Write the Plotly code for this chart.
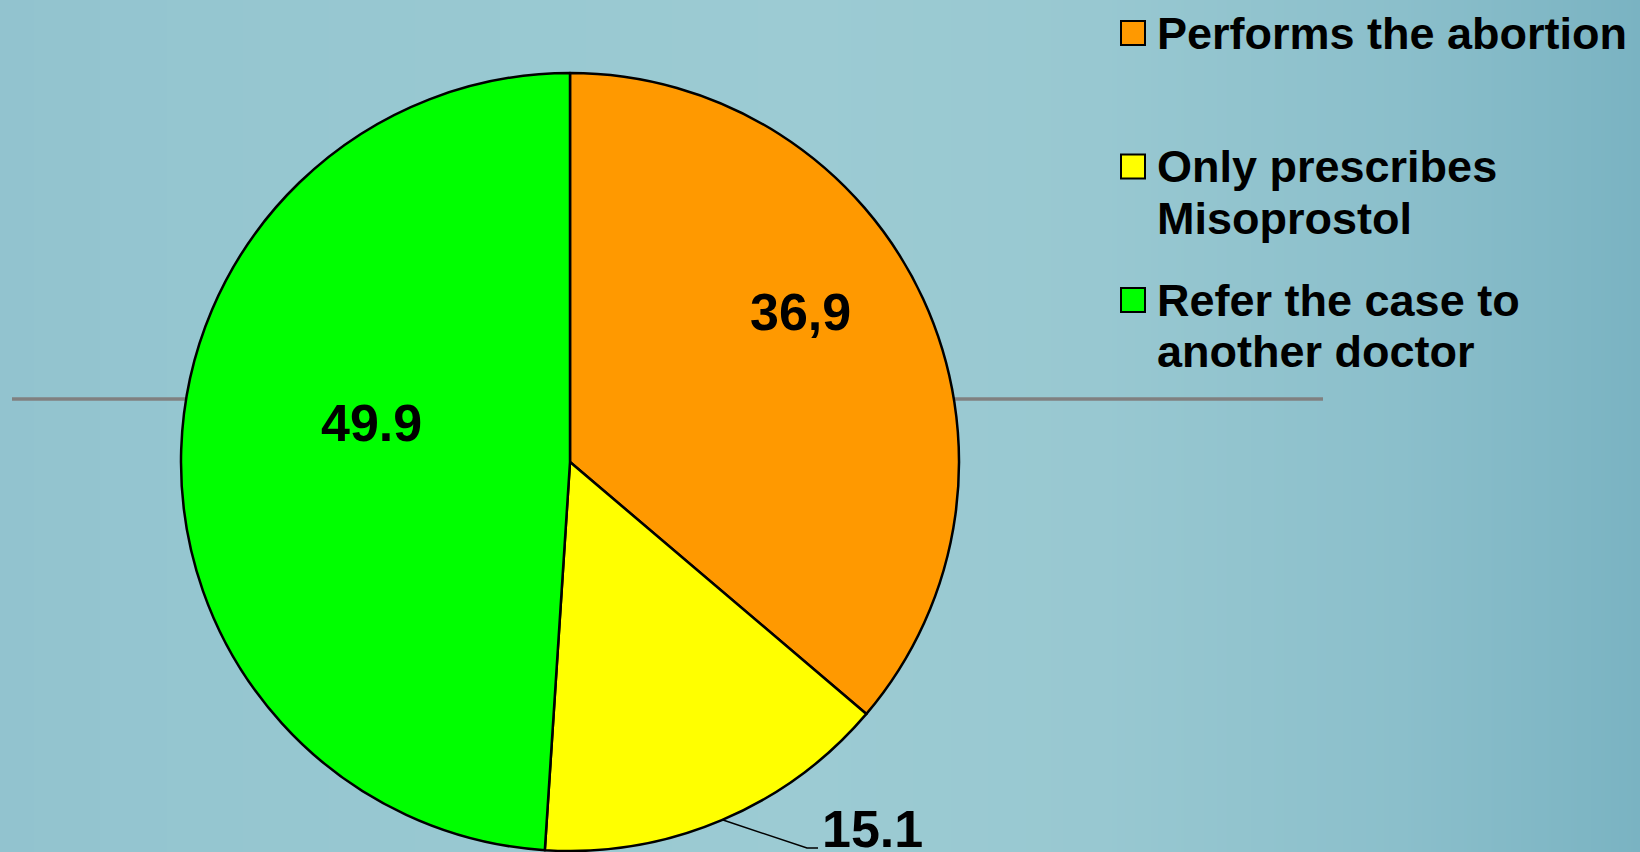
import plotly.graph_objects as go

# ---- data ----
categories = ["Performs the abortion", "Only prescribes Misoprostol", "Refer the case to another doctor"]
legend_lines = [["Performs the abortion"], ["Only prescribes", "Misoprostol"], ["Refer the case to", "another doctor"]]
values = [36.9, 15.1, 49.9]
value_labels = ["36,9", "15.1", "49.9"]
colors = ["#FF9900", "#FFFF00", "#00FF00"]

W, H = 1640, 852
FONT = "Liberation Sans, Arial, sans-serif"

fig = go.Figure()

# background gradient (horizontal)
grad_stops = [(0, "#92c3cf"), (200, "#95c6d0"), (800, "#9ccbd3"), (1100, "#98c8d1"),
              (1400, "#8bbfcb"), (1640, "#7ab3c2")]
xs = list(range(0, W + 1, 8))
cs = [[s[0] / W, s[1]] for s in grad_stops]
fig.add_trace(go.Heatmap(x=xs, y=[0, H], z=[xs, xs], colorscale=cs, zmin=0, zmax=W,
                         showscale=False, hoverinfo="skip", zsmooth="best"))

# gray horizontal rule (behind pie)
fig.add_trace(go.Scatter(x=[12, 1323], y=[399, 399], mode="lines",
                         line=dict(color="#808080", width=3.5), hoverinfo="skip", showlegend=False))

# leader line for small slice label
fig.add_trace(go.Scatter(x=[723, 807, 818], y=[820, 848, 848], mode="lines",
                         line=dict(color="#000000", width=1.5), hoverinfo="skip", showlegend=False))

# pie
fig.add_trace(go.Pie(labels=categories, values=values, sort=False, direction="clockwise",
                     rotation=0, marker=dict(colors=colors, line=dict(color="#000000", width=2.5)),
                     textinfo="none", hoverinfo="label+value", showlegend=False,
                     domain=dict(x=[181 / W, 959 / W], y=[1 / H, 779 / H])))

# slice value labels
label_pos = [(800, 312), (872, 829), (371, 423)]
for txt, (lx, ly) in zip(value_labels, label_pos):
    fig.add_annotation(x=lx, y=ly, xref="x", yref="y", text=f"<b>{txt}</b>", showarrow=False,
                       font=dict(family=FONT, size=52, color="#000000"),
                       xanchor="center", yanchor="middle")

# custom legend
legend_y = [33, 166.5, 300]
line_gap = 51.5
for lines, col, ly in zip(legend_lines, colors, legend_y):
    fig.add_shape(type="rect", xref="x", yref="y", x0=1121, x1=1145, y0=ly - 12, y1=ly + 12,
                  fillcolor=col, line=dict(color="#000000", width=2), layer="above")
    for i, ln in enumerate(lines):
        fig.add_annotation(x=1155, y=ly + i * line_gap, xref="x", yref="y", text=f"<b>{ln}</b>",
                           showarrow=False, font=dict(family=FONT, size=45, color="#000000"),
                           xanchor="left", yanchor="middle")

fig.update_xaxes(range=[0, W], visible=False, fixedrange=True)
fig.update_yaxes(range=[H, 0], visible=False, fixedrange=True)
fig.update_layout(width=W, height=H, margin=dict(l=0, r=0, t=0, b=0),
                  paper_bgcolor="#92c3cf", plot_bgcolor="#92c3cf", showlegend=False)

fig.write_html("out.html")
